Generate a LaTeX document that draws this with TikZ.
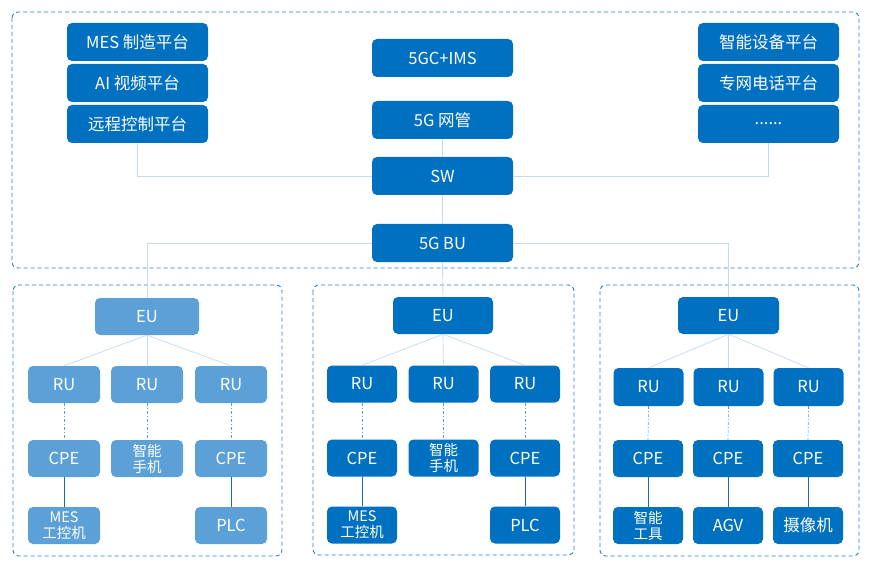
\documentclass[tikz,border=0pt]{standalone}
\usepackage{fontspec}
\setmainfont{Noto Sans CJK SC}
\definecolor{dk}{HTML}{0070C0}
\definecolor{lt}{HTML}{5BA1D7}
\definecolor{ln}{HTML}{C5D9F1}
\definecolor{brd}{HTML}{2E7BC4}
\definecolor{dd}{HTML}{5B9BD5}
\definecolor{sl}{HTML}{1F68B0}
\begin{document}
\begin{tikzpicture}[x=1pt,y=-1pt,
  box/.style={fill=dk,rounded corners=5pt,text=white,inner sep=0pt,font=\fontsize{16.5}{18}\selectfont,align=center},
  lbox/.style={box,fill=lt},
  top/.style={minimum width=141pt,minimum height=38pt},
  eub/.style={minimum width=101pt,minimum height=37pt},
  smb/.style={minimum width=70pt,minimum height=37pt},
  two/.style={font=\fontsize{14.5}{16}\selectfont},
  grp/.style={draw=brd,dash pattern=on 4pt off 3pt,line width=0.9pt,rounded corners=6pt},
  conn/.style={draw=ln,line width=0.9pt},
  dconn/.style={draw=dd,line width=0.7pt,dash pattern=on 3pt off 2pt on 1pt off 2pt},
  sconn/.style={draw=sl,line width=0.9pt}]
\useasboundingbox (0,0) rectangle (871,567);
% group frames
\draw[grp] (12,12) rectangle (859,268);
\draw[grp] (13,285) rectangle (282,556);
\draw[grp] (313,285) rectangle (574,555);
\draw[grp] (600,285) rectangle (859,556);
% top nodes
\node[box,top] (tl1) at (137.5,42) {MES 制造平台};
\node[box,top] (tl2) at (137.5,83) {AI 视频平台};
\node[box,top] (tl3) at (137.5,124) {远程控制平台};
\node[box,top] (c1) at (442.5,58) {5GC+IMS};
\node[box,top] (c2) at (442.5,120) {5G 网管};
\node[box,top] (sw) at (442.5,176) {SW};
\node[box,top] (bu) at (442.5,243) {5G BU};
\node[box,top] (tr1) at (768.5,42) {智能设备平台};
\node[box,top] (tr2) at (768.5,83) {专网电话平台};
\node[box,top] (tr3) at (768.5,124) {......};
% group 1
\node[lbox,eub,minimum width=104pt] (eu1) at (147,316.5) {EU};
\node[lbox,smb,minimum width=72pt] (ru11) at (64,384.5) {RU};
\node[lbox,smb,minimum width=72pt] (ru12) at (147,384.5) {RU};
\node[lbox,smb,minimum width=72pt] (ru13) at (231,384.5) {RU};
\node[lbox,smb,minimum width=72pt] (cp11) at (64,458.5) {CPE};
\node[lbox,smb,minimum width=72pt,two] (cp12) at (147,458.5) {智能\\手机};
\node[lbox,smb,minimum width=72pt] (cp13) at (231,458.5) {CPE};
\node[lbox,smb,minimum width=72pt,two] (b11) at (64,525.5) {MES\\工控机};
\node[lbox,smb,minimum width=72pt] (b13) at (231,525.5) {PLC};
% group 2
\node[box,eub,minimum width=100pt] (eu2) at (443,315.5) {EU};
\node[box,smb] (ru21) at (362,384) {RU};
\node[box,smb] (ru22) at (443.5,384) {RU};
\node[box,smb] (ru23) at (525,384) {RU};
\node[box,smb] (cp21) at (362,458) {CPE};
\node[box,smb,two] (cp22) at (443.5,458) {智能\\手机};
\node[box,smb] (cp23) at (525,458) {CPE};
\node[box,smb,two] (b21) at (362,525) {MES\\工控机};
\node[box,smb] (b23) at (525,525) {PLC};
% group 3
\node[box,eub] (eu3) at (728.5,315.5) {EU};
\node[box,smb,minimum height=38pt] (ru31) at (648.5,387) {RU};
\node[box,smb,minimum height=38pt] (ru32) at (728.5,387) {RU};
\node[box,smb,minimum height=38pt] (ru33) at (808.5,387) {RU};
\node[box,smb] (cp31) at (648,458.5) {CPE};
\node[box,smb] (cp32) at (728,458.5) {CPE};
\node[box,smb] (cp33) at (808,458.5) {CPE};
\node[box,smb,two] (b31) at (648,525.5) {智能\\工具};
\node[box,smb] (b32) at (728,525.5) {AGV};
\node[box,smb] (b33) at (808,525.5) {摄像机};
% top connectors
\draw[conn] (tl3.south) |- (sw.west);
\draw[conn] (sw.east) -| (tr3.south);
\draw[conn] (c2.south) -- (sw.north);
\draw[conn] (sw.south) -- (bu.north);
\draw[conn] (bu.west) -| (eu1.north);
\draw[conn] (bu.east) -| (eu3.north);
\draw[conn] (bu.south) -- (eu2.north);
% group connectors
\foreach \g in {1,2,3}{
  \foreach \i in {1,2,3}{
    \draw[conn,line width=0.7pt] (eu\g.south) -- (ru\g\i.north);
    \draw[dconn] (ru\g\i.south) -- (cp\g\i.north);
  }
}
\draw[sconn] (cp11.south) -- (b11.north);
\draw[sconn] (cp13.south) -- (b13.north);
\draw[sconn] (cp21.south) -- (b21.north);
\draw[sconn] (cp23.south) -- (b23.north);
\draw[sconn] (cp31.south) -- (b31.north);
\draw[sconn] (cp32.south) -- (b32.north);
\draw[sconn] (cp33.south) -- (b33.north);
\end{tikzpicture}
\end{document}
